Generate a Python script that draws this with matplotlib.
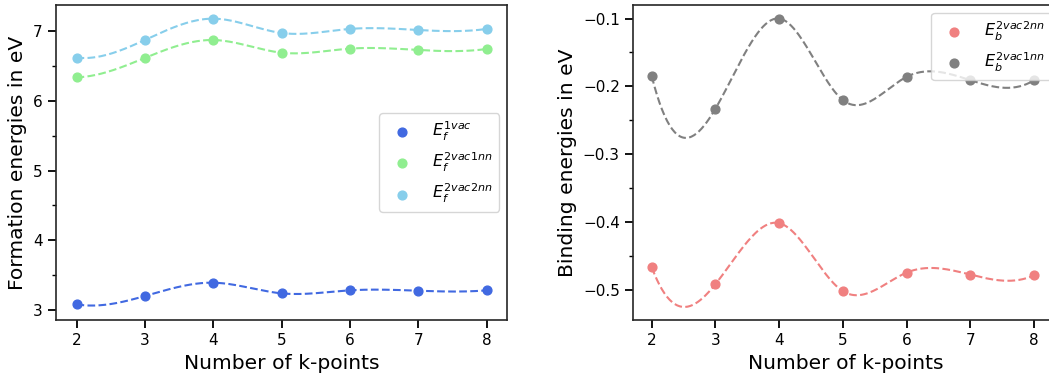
import numpy as np
import matplotlib
matplotlib.use('Agg')
import matplotlib.pyplot as plt
from matplotlib.ticker import MultipleLocator

kpoints = [2, 3, 4, 5, 6, 7, 8]

# formation energies (eV)
ef_1vac = [3.077, 3.196, 3.388, 3.235, 3.278, 3.273, 3.278]
ef_2vac1nn = [6.339, 6.617, 6.875, 6.693, 6.751, 6.732, 6.746]
ef_2vac2nn = [6.622, 6.875, 7.182, 6.976, 7.034, 7.019, 7.034]

# binding energies (eV)
eb_2vac2nn = [-0.467, -0.492, -0.402, -0.5025, -0.475, -0.478, -0.479]
eb_2vac1nn = [-0.185, -0.233, -0.100, -0.2205, -0.186, -0.191, -0.191]


def spline(x, y, n=300):
    # not-a-knot cubic spline, like scipy's default
    x = np.asarray(x, float)
    y = np.asarray(y, float)
    N = len(x)
    h = np.diff(x)
    A = np.zeros((N, N))
    b = np.zeros(N)
    for i in range(1, N - 1):
        A[i, i - 1] = h[i - 1]
        A[i, i] = 2 * (h[i - 1] + h[i])
        A[i, i + 1] = h[i]
        b[i] = 6 * ((y[i + 1] - y[i]) / h[i] - (y[i] - y[i - 1]) / h[i - 1])
    A[0, 0], A[0, 1], A[0, 2] = h[1], -(h[0] + h[1]), h[0]
    A[-1, -3], A[-1, -2], A[-1, -1] = h[-1], -(h[-2] + h[-1]), h[-2]
    M = np.linalg.solve(A, b)
    xs = np.linspace(x[0], x[-1], n)
    ys = np.zeros_like(xs)
    for j, xv in enumerate(xs):
        i = min(np.searchsorted(x, xv, side='right') - 1, N - 2)
        hi = h[i]
        a = x[i + 1] - xv
        c = xv - x[i]
        ys[j] = (M[i] * a**3 / (6 * hi) + M[i + 1] * c**3 / (6 * hi)
                 + (y[i] / hi - M[i] * hi / 6) * a
                 + (y[i + 1] / hi - M[i + 1] * hi / 6) * c)
    return xs, ys


def plot_series(ax, y, color, label):
    xs, ys = spline(kpoints, y)
    ax.plot(xs, ys, '--', color=color, lw=1.5)
    ax.scatter(kpoints, y, color=color, s=40, label=label, zorder=3)


def style(ax, minor):
    ax.yaxis.set_minor_locator(MultipleLocator(minor))
    ax.tick_params(which='major', length=6, width=1.3, labelsize=11)
    ax.tick_params(which='minor', length=3, width=1.0)
    ax.set_xticks(kpoints)
    for s in ax.spines.values():
        s.set_linewidth(1.2)
        s.set_color('#262626')
    ax.set_xlabel('Number of k-points', fontsize=14.6)


W, H = 1049, 374
fig = plt.figure(figsize=(W / 100, H / 100), dpi=100)

ax1 = fig.add_axes([56 / W, 1 - 320 / H, 451 / W, 315 / H])
plot_series(ax1, ef_1vac, 'royalblue', r'$E_f^{1vac}$')
plot_series(ax1, ef_2vac1nn, 'lightgreen', r'$E_f^{2vac1nn}$')
plot_series(ax1, ef_2vac2nn, 'skyblue', r'$E_f^{2vac2nn}$')
ax1.set_xlim(1.7, 8.3)
ax1.set_ylim(2.852, 7.378)
style(ax1, 0.5)
ax1.set_ylabel('Formation energies in eV', fontsize=14.6)
ax1.legend(loc='center right', fontsize=11.5, handletextpad=0.9)

ax2 = fig.add_axes([633 / W, 1 - 320 / H, 426 / W, 315 / H])
plot_series(ax2, eb_2vac2nn, 'lightcoral', r'$E_b^{2vac2nn}$')
plot_series(ax2, eb_2vac1nn, 'gray', r'$E_b^{2vac1nn}$')
ax2.set_xlim(1.706, 8.39)
ax2.set_ylim(-0.545, -0.08)
style(ax2, 0.05)
ax2.set_ylabel('Binding energies in eV', fontsize=14.6)
ax2.legend(loc='upper right', fontsize=11.5, handletextpad=0.9)

fig.savefig('out.png', dpi=100)
